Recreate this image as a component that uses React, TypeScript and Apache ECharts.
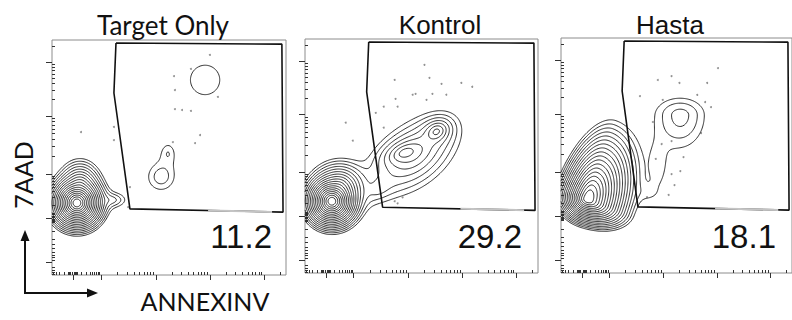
import React, { useEffect, useRef } from "react";
import * as echarts from "echarts";

// ---------- data (channel units 0-1024 on both axes) ----------
const TITLES = ["Target Only", "Kontrol", "Hasta"];
const PERCENTS = ["11.2", "29.2", "18.1"];

// gate polygon (same gate in every panel)
const GATE_X = [280, 1006, 1011, 341, 271, 280];
const GATE_Y = [1011, 1006, 274, 288, 793, 1011];
// faded stretch of the gate's lower edge
const GATE_FADE_X = [683, 963];
const GATE_FADE_Y = [281, 275];

// cell populations:
// [cx, cy, spread+ along axis, spread- along axis, spread+ across, spread- across, axis angle (deg), weight]
const POP_TARGET = [
  [109, 314, 16, 16, 16, 16, 0, 1],
  [123, 392, 22, 22, 26, 26, 0, 0.01],
  [263, 327, 31, 31, 17, 17, 0, 0.0008],
  [477, 427, 39, 39, 39, 39, 0, 0.0006],
  [508, 532, 22, 22, 31, 31, 0, 0.0004],
  [670, 850, 66, 66, 66, 66, 0, 0.00045],
];
const POP_KONTROL = [
  [118, 314, 16, 16, 16, 16, 0, 1],
  [153, 379, 28, 28, 26, 26, 0, 0.012],
  [438, 527, 31, 31, 17, 17, 20, 0.004],
  [578, 619, 22, 22, 17, 17, 30, 0.0045],
  [478, 515, 78, 78, 46, 46, 38, 0.0025],
  [328, 370, 35, 35, 22, 22, 35, 0.0006],
];
const POP_HASTA = [
  [118, 322, 40, 14, 17, 24, 70, 1],
  [529, 688, 40, 75, 58, 58, 90, 0.0009],
  [429, 466, 26, 26, 61, 61, 0, 0.00038],
  [385, 349, 35, 35, 26, 26, 0, 0.00025],
];

// outlier events
const DOTS_TARGET_X = [691, 608, 534, 538, 538, 569, 608, 726, 648, 626, 529, 271, 271, 127, 341, 333];
const DOTS_TARGET_Y = [959, 898, 867, 806, 723, 719, 715, 776, 610, 575, 579, 645, 588, 623, 383, 296];
const DOTS_KONTROL_X = [525, 394, 547, 600, 687, 735, 398, 473, 486, 560, 621, 534, 346, 407, 311, 346, 179, 210, 394, 429, 407];
const DOTS_KONTROL_Y = [911, 845, 854, 828, 832, 815, 762, 780, 784, 784, 780, 758, 728, 728, 701, 636, 658, 579, 314, 331, 305];
const DOTS_HASTA_X = [696, 429, 490, 525, 648, 350, 451, 604, 639, 665, 407, 446, 490, 621, 420, 543, 529, 490, 503, 477, 381];
const DOTS_HASTA_Y = [893, 841, 858, 828, 828, 771, 754, 776, 745, 723, 658, 562, 575, 610, 497, 505, 444, 431, 383, 340, 331];

// axis decades (major tick positions) and zero positions
const X_MAJOR = [92, 214, 455, 691, 928];
const Y_MAJOR = [57, 248, 440, 693, 928];
const X_ZERO = 92;
const Y_ZERO = 248;

const LEVEL_STEP = 0.45;
const LEVEL_COUNT = 18;
const AXIS_MAX = 1024;

// ---------- helpers ----------
function minorTicks(majors: number[], zero: number): number[] {
  const out: number[] = [];
  const zi = majors.indexOf(zero);
  const log = (k: number) => Math.log10(k);
  const negW = zero - (zi > 0 ? majors[zi - 1] : 0);
  if (zi > 0) {
    for (let k = 2; k <= 9; k++) out.push(zero - negW * log(k));
    for (let k = 2; k <= 9; k++) {
      const v = majors[zi - 1] - negW * log(k) * 0.4;
      if (v > 0) out.push(v);
    }
  } else {
    const w = majors[zi + 1] - zero;
    for (let k = 2; k <= 9; k++) {
      const v = zero - w * log(k);
      if (v > 2) out.push(v);
    }
  }
  for (const d of [5, 10, 15, 20]) {
    out.push(zero - d, zero + d);
  }
  for (let m = zi; m < majors.length; m++) {
    const a = majors[m];
    const b = m + 1 < majors.length ? majors[m + 1] : a + (a - majors[m - 1]);
    for (let k = 2; k <= 9; k++) {
      const v = a + (b - a) * log(k);
      if (v < AXIS_MAX) out.push(v);
    }
  }
  return out.filter((v) => v > 0 && v < AXIS_MAX);
}

function density(pops: number[][], x: number, y: number): number {
  let s = 0;
  for (const p of pops) {
    const [cx, cy, uP, uN, vP, vN, ang, w] = p;
    const t = (ang * Math.PI) / 180;
    const dx = x - cx;
    const dy = y - cy;
    const ur = dx * Math.cos(t) + dy * Math.sin(t);
    const vr = -dx * Math.sin(t) + dy * Math.cos(t);
    const u = ur / (ur > 0 ? uP : uN);
    const v = vr / (vr > 0 ? vP : vN);
    s += w * Math.exp(1 - Math.sqrt(1 + u * u + v * v));
  }
  return s;
}

const CASES: number[][][] = [
  [], [[3, 0]], [[0, 1]], [[3, 1]], [[1, 2]], [[3, 2], [0, 1]], [[0, 2]], [[3, 2]],
  [[2, 3]], [[0, 2]], [[0, 3], [1, 2]], [[1, 2]], [[1, 3]], [[0, 1]], [[0, 3]], [],
];

// marching squares, segments chained into continuous polylines separated by gaps
function contourData(pops: number[][]): any[] {
  const step = 4;
  const n = Math.ceil(AXIS_MAX / step);
  const W = n + 1;
  const vals = new Float64Array(W * W);
  for (let j = 0; j <= n; j++)
    for (let i = 0; i <= n; i++) vals[j * W + i] = density(pops, i * step, j * step);
  const out: any[] = [];
  for (let k = 1; k <= LEVEL_COUNT; k++) {
    const lev = Math.exp(-LEVEL_STEP * k);
    const segA: number[] = [];
    const segB: number[] = [];
    const pts = new Map<number, number[]>();
    const adj = new Map<number, number[]>();
    for (let j = 0; j < n; j++) {
      for (let i = 0; i < n; i++) {
        const va = vals[j * W + i];
        const vb = vals[j * W + i + 1];
        const vc = vals[(j + 1) * W + i + 1];
        const vd = vals[(j + 1) * W + i];
        const idx = (va > lev ? 1 : 0) | (vb > lev ? 2 : 0) | (vc > lev ? 4 : 0) | (vd > lev ? 8 : 0);
        if (idx === 0 || idx === 15) continue;
        const x0 = i * step;
        const y0 = j * step;
        const edge = (e: number): number => {
          let key: number;
          let p: number[];
          if (e === 0) { key = (j * W + i) * 2; p = [x0 + step * ((lev - va) / (vb - va)), y0]; }
          else if (e === 1) { key = (j * W + i + 1) * 2 + 1; p = [x0 + step, y0 + step * ((lev - vb) / (vc - vb))]; }
          else if (e === 2) { key = ((j + 1) * W + i) * 2; p = [x0 + step * ((lev - vd) / (vc - vd)), y0 + step]; }
          else { key = (j * W + i) * 2 + 1; p = [x0, y0 + step * ((lev - va) / (vd - va))]; }
          pts.set(key, p);
          return key;
        };
        for (const [e1, e2] of CASES[idx]) {
          const a = edge(e1);
          const b = edge(e2);
          const s = segA.length;
          segA.push(a);
          segB.push(b);
          if (!adj.has(a)) adj.set(a, []);
          if (!adj.has(b)) adj.set(b, []);
          adj.get(a)!.push(s);
          adj.get(b)!.push(s);
        }
      }
    }
    const used = new Uint8Array(segA.length);
    const walk = (startKey: number): number[] => {
      const chain: number[] = [];
      let key = startKey;
      for (;;) {
        const list = adj.get(key) || [];
        let next = -1;
        for (const s of list) if (!used[s]) { next = s; break; }
        if (next < 0) break;
        used[next] = 1;
        key = segA[next] === key ? segB[next] : segA[next];
        chain.push(key);
      }
      return chain;
    };
    for (let s = 0; s < segA.length; s++) {
      if (used[s]) continue;
      used[s] = 1;
      const fwd = walk(segB[s]);
      const back = walk(segA[s]);
      const keys = [...back.reverse(), segA[s], segB[s], ...fwd];
      for (const key of keys) out.push(pts.get(key));
      out.push(["-", "-"]);
    }
  }
  return out;
}

const PANELS = [
  { pops: POP_TARGET, dx: DOTS_TARGET_X, dy: DOTS_TARGET_Y, left: 52, top: 40, width: 234, height: 235 },
  { pops: POP_KONTROL, dx: DOTS_KONTROL_X, dy: DOTS_KONTROL_Y, left: 305, top: 39, width: 233, height: 234 },
  { pops: POP_HASTA, dx: DOTS_HASTA_X, dy: DOTS_HASTA_Y, left: 561, top: 38, width: 234, height: 235 },
];

const TITLE_POS = [
  { x: 163, y: 25, font: "Lato" },
  { x: 440, y: 25, font: "Liberation Sans" },
  { x: 670, y: 25, font: "Liberation Sans" },
];
const PCT_POS = [
  { x: 272, y: 236 },
  { x: 522, y: 236 },
  { x: 776, y: 236 },
];

function buildOption() {
  const xMinor = minorTicks(X_MAJOR, X_ZERO);
  const yMinor = minorTicks(Y_MAJOR, Y_ZERO);
  const grid: any[] = [];
  const xAxis: any[] = [];
  const yAxis: any[] = [];
  const series: any[] = [];
  PANELS.forEach((p, pi) => {
    grid.push({
      left: p.left, top: p.top, width: p.width, height: p.height,
      show: true, borderColor: "#8c8c8c", borderWidth: 1, backgroundColor: "transparent",
      containLabel: false,
    });
    const mk = (ticks: number[], len: number) => ({
      type: "value", gridIndex: pi, min: 0, max: AXIS_MAX,
      axisLine: { show: false },
      axisLabel: { show: false },
      splitLine: { show: false },
      axisTick: { show: true, inside: false, length: len, customValues: ticks, lineStyle: { color: "#333", width: 1 } },
    });
    xAxis.push(mk(X_MAJOR, 5), mk(xMinor, 3));
    yAxis.push(mk(Y_MAJOR, 6), mk(yMinor, 3));
    const xi = pi * 2;
    series.push({
      type: "line", xAxisIndex: xi, yAxisIndex: xi,
      data: contourData(p.pops), showSymbol: false, symbol: "none",
      connectNulls: false, silent: true,
      lineStyle: { color: "#2a2a2a", width: 1 },
    });
    series.push({
      type: "scatter", xAxisIndex: xi, yAxisIndex: xi, silent: true,
      data: p.dx.map((v, i) => [v, p.dy[i]]),
      symbolSize: 2, itemStyle: { color: "#777" },
    });
    series.push({
      type: "line", xAxisIndex: xi, yAxisIndex: xi, silent: true,
      data: GATE_X.map((v, i) => [v, GATE_Y[i]]),
      showSymbol: false, symbol: "none",
      lineStyle: { color: "#111", width: 1.6 },
    });
    series.push({
      type: "line", xAxisIndex: xi, yAxisIndex: xi, silent: true,
      data: GATE_FADE_X.map((v, i) => [v, GATE_FADE_Y[i]]),
      showSymbol: false, symbol: "none",
      lineStyle: { color: "#c4c4c4", width: 2 },
    });
  });

  const graphic: any[] = [];
  TITLES.forEach((t, i) => {
    graphic.push({
      type: "text", x: TITLE_POS[i].x, y: TITLE_POS[i].y,
      style: { text: t, fill: "#111", font: `26px "${TITLE_POS[i].font}"`, align: "center", verticalAlign: "middle" },
    });
    graphic.push({
      type: "text", x: PCT_POS[i].x, y: PCT_POS[i].y,
      style: { text: PERCENTS[i], fill: "#111", font: '33px "Liberation Sans"', align: "right", verticalAlign: "middle" },
    });
  });
  graphic.push({
    type: "text", x: 23, y: 175, rotation: Math.PI / 2,
    style: { text: "7AAD", fill: "#111", font: '25px "Lato"', align: "center", verticalAlign: "middle" },
  });
  graphic.push({
    type: "text", x: 205, y: 301,
    style: { text: "ANNEXINV", fill: "#111", font: '25px "Lato"', align: "center", verticalAlign: "middle" },
  });
  graphic.push({ type: "line", shape: { x1: 25, y1: 294, x2: 25, y2: 240 }, style: { stroke: "#111", lineWidth: 2 } });
  graphic.push({ type: "polygon", shape: { points: [[25, 230], [20.5, 241], [29.5, 241]] }, style: { fill: "#111" } });
  graphic.push({ type: "line", shape: { x1: 24, y1: 293, x2: 88, y2: 293 }, style: { stroke: "#111", lineWidth: 2 } });
  graphic.push({ type: "polygon", shape: { points: [[98, 293], [87, 288.5], [87, 297.5]] }, style: { fill: "#111" } });

  return { animation: false, backgroundColor: "#fff", grid, xAxis, yAxis, series, graphic };
}

export default function App() {
  const ref = useRef<HTMLDivElement>(null);
  useEffect(() => {
    if (!ref.current) return;
    const chart = echarts.init(ref.current, undefined, { renderer: "svg" });
    chart.setOption(buildOption());
    return () => chart.dispose();
  }, []);
  return (
    <div
      ref={ref}
      style={{ position: "fixed", left: 0, top: 0, width: 792, height: 320, background: "#fff" }}
    />
  );
}
